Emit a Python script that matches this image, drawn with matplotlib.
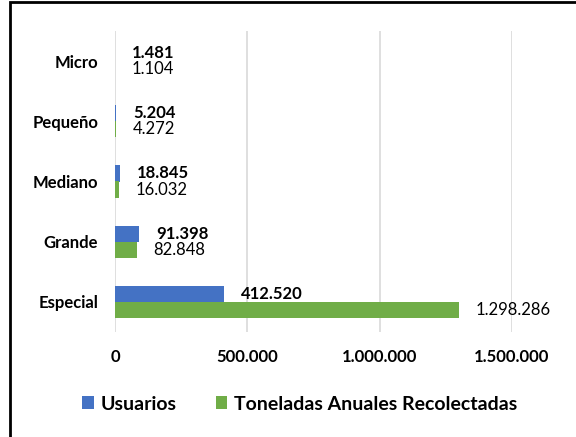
import matplotlib
matplotlib.use("Agg")
import matplotlib.pyplot as plt
from matplotlib.patches import Rectangle

plt.rcParams['font.family'] = ['Lato', 'DejaVu Sans']

categories = ["Especial", "Grande", "Mediano", "Pequeño", "Micro"]
usuarios = [412520, 91398, 18845, 5204, 1481]
toneladas = [1298286, 82848, 16032, 4272, 1104]
usuarios_labels = ["412.520", "91.398", "18.845", "5.204", "1.481"]
toneladas_labels = ["1.298.286", "82.848", "16.032", "4.272", "1.104"]
x_ticks = [0, 500000, 1000000, 1500000]
x_tick_labels = ["0", "500.000", "1.000.000", "1.500.000"]
series_names = ["Usuarios", "Toneladas Anuales Recolectadas"]

blue = "#4472C4"
green = "#70AD47"

fig = plt.figure(figsize=(5.76, 4.37), dpi=100)
ax = fig.add_axes([115/576, 1-332/437, (512-115)/576, (332-31)/437])

y = list(range(len(categories)))
h = 0.266
b1 = ax.barh([v + h/2 for v in y], usuarios, height=h, color=blue, label=series_names[0], zorder=3)
b2 = ax.barh([v - h/2 for v in y], toneladas, height=h, color=green, label=series_names[1], zorder=3)

for rect, lab in zip(b1, usuarios_labels):
    ax.annotate(lab, (rect.get_width(), rect.get_y() + rect.get_height()/2),
                xytext=(12, 0), textcoords="offset points", va="center", ha="left",
                fontsize=12, fontweight="bold", color="#000000")
for rect, lab in zip(b2, toneladas_labels):
    ax.annotate(lab, (rect.get_width(), rect.get_y() + rect.get_height()/2),
                xytext=(12, 0), textcoords="offset points", va="center", ha="left",
                fontsize=12, color="#000000")

ax.set_xlim(0, 1500000)
ax.set_ylim(-0.5, len(categories) - 0.5)
ax.set_yticks(y)
ax.set_yticklabels(categories, fontsize=12, fontweight="bold")
ax.set_xticks(x_ticks)
ax.set_xticklabels(x_tick_labels, fontsize=12, fontweight="bold")
ax.tick_params(axis="both", length=0)
ax.tick_params(axis="x", pad=12)
ax.tick_params(axis="y", pad=12)
ax.grid(axis="x", color="#D9D9D9", linewidth=1.2, zorder=0)
for s in ax.spines.values():
    s.set_visible(False)

leg = fig.legend(handles=[b1, b2], labels=series_names, loc="center",
                 bbox_to_anchor=(300/576, 1-404/437), ncol=2, frameon=False,
                 handlelength=0.6, handleheight=0.6, handletextpad=0.35,
                 columnspacing=2.0, prop={"size": 14, "weight": "bold"})

fig.patches.append(Rectangle((9.5/576, -0.1), 2, 1 - 2/437 + 0.1, transform=fig.transFigure,
                             fill=False, edgecolor="black", linewidth=2))

fig.savefig("out.png", dpi=100)
